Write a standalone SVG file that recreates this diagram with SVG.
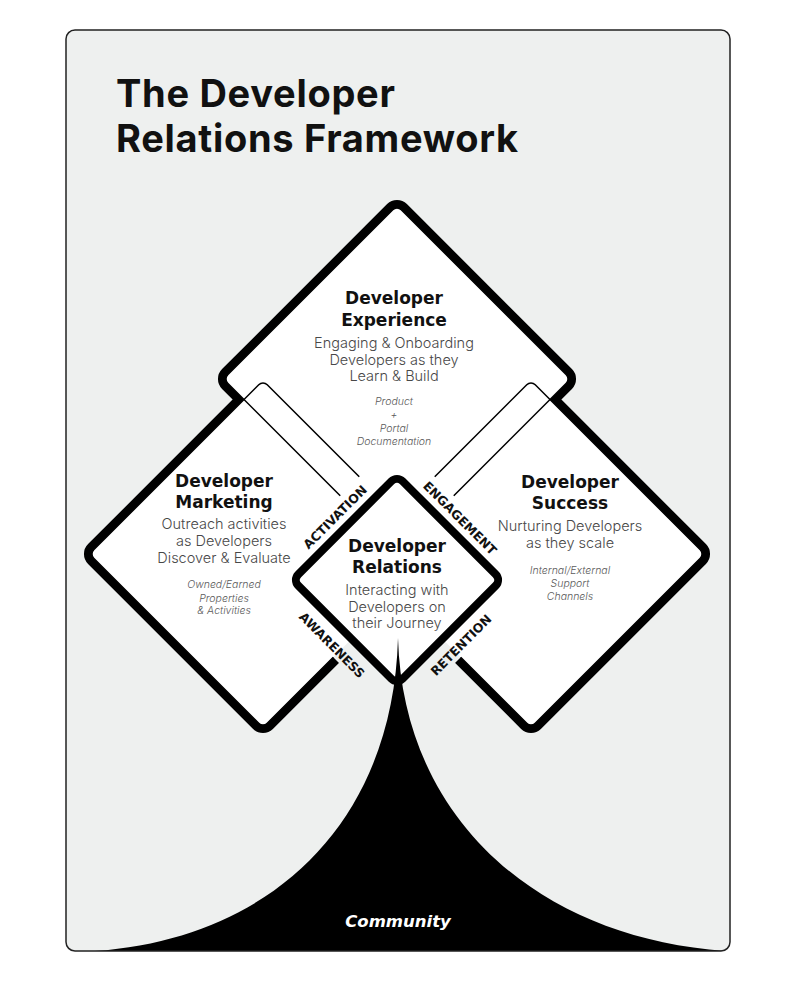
<svg xmlns="http://www.w3.org/2000/svg" xmlns:xlink="http://www.w3.org/1999/xlink" width="795" height="994" viewBox="0 0 795 994">
<style>
.title{font-family:Inter,"Liberation Sans",sans-serif;font-weight:700;font-size:38px;letter-spacing:0.7px;fill:#111}
.hd{font-family:"DejaVu Sans","Liberation Sans",sans-serif;font-weight:700;font-size:17px;fill:#111;text-anchor:middle}
.ds{font-family:Inter,"Liberation Sans",sans-serif;font-weight:300;font-size:14.5px;fill:#484848;text-anchor:middle}
.it{font-family:Inter,"Liberation Sans",sans-serif;font-weight:300;font-style:italic;font-size:10.5px;fill:#5a5a5a;text-anchor:middle}
.lbl{font-family:"DejaVu Sans","Liberation Sans",sans-serif;font-weight:700;font-size:12.5px;fill:#111;text-anchor:middle}
.com{font-family:"DejaVu Sans","Liberation Sans",sans-serif;font-weight:700;font-style:italic;font-size:16.5px;fill:#fff;text-anchor:middle}
.thick{fill:none;stroke:#000;stroke-width:16}
.wfill{fill:#fff;stroke:none}
.thin{fill:none;stroke:#000;stroke-width:1.5}
</style>
<defs>
<rect id="big" x="-122.7" y="-122.7" width="245.4" height="245.4" rx="6"/>
<mask id="m" maskUnits="userSpaceOnUse" x="0" y="0" width="795" height="994">
<rect width="795" height="994" fill="#fff"/>
<polygon points="397,439 538,580 397,721 256,580" fill="#000"/>
</mask>
</defs>
<rect width="795" height="994" fill="#fff"/>
<rect id="frame-bg" x="66" y="30" width="664" height="921" rx="9" fill="#eef0ef"/>
<g id="title">
<text class="title" x="116" y="106.7">The Developer</text>
<text class="title" x="116" y="151.7">Relations Framework</text>
</g>
<g id="diamond-outlines">
<g mask="url(#m)">
<use xlink:href="#big" class="thick" transform="translate(397,379) rotate(45)"/>
<use xlink:href="#big" class="thick" transform="translate(263,554) rotate(45)"/>
<use xlink:href="#big" class="thick" transform="translate(531,554) rotate(45)"/>
</g>
<use xlink:href="#big" class="wfill" transform="translate(397,379) rotate(45)"/>
<use xlink:href="#big" class="wfill" transform="translate(263,554) rotate(45)"/>
<use xlink:href="#big" class="wfill" transform="translate(531,554) rotate(45)"/>
<g mask="url(#m)">
<use xlink:href="#big" class="thin" transform="translate(397,379) rotate(45)"/>
<use xlink:href="#big" class="thin" transform="translate(263,554) rotate(45)"/>
<use xlink:href="#big" class="thin" transform="translate(531,554) rotate(45)"/>
</g>
</g>
<g id="developer-experience">
<text class="hd" x="394" y="304">Developer</text>
<text class="hd" x="394" y="326">Experience</text>
<text class="ds" x="394" y="347.5">Engaging &amp; Onboarding</text>
<text class="ds" x="394" y="364.5">Developers as they</text>
<text class="ds" x="394" y="381">Learn &amp; Build</text>
<text class="it" x="394" y="405">Product</text>
<text class="it" x="394" y="418">+</text>
<text class="it" x="394" y="431.5">Portal</text>
<text class="it" x="394" y="445">Documentation</text>
</g>
<g id="developer-marketing">
<text class="hd" x="224" y="486.7">Developer</text>
<text class="hd" x="224" y="508">Marketing</text>
<text class="ds" x="224" y="529">Outreach activities</text>
<text class="ds" x="224" y="545.7">as Developers</text>
<text class="ds" x="224" y="562.7">Discover &amp; Evaluate</text>
<text class="it" x="224" y="588">Owned/Earned</text>
<text class="it" x="224" y="601.5">Properties</text>
<text class="it" x="224" y="614">&amp; Activities</text>
</g>
<g id="developer-success">
<text class="hd" x="570" y="488.3">Developer</text>
<text class="hd" x="570" y="509.3">Success</text>
<text class="ds" x="570" y="531">Nurturing Developers</text>
<text class="ds" x="570" y="547.7">as they scale</text>
<text class="it" x="570" y="574">Internal/External</text>
<text class="it" x="570" y="587.3">Support</text>
<text class="it" x="570" y="600">Channels</text>
</g>
<g id="developer-relations">
<rect x="-73.8" y="-73.8" width="147.6" height="147.6" rx="8" fill="#fff" stroke="#000" stroke-width="8" transform="translate(397,580) rotate(45)"/>
<text class="hd" x="397" y="551.7">Developer</text>
<text class="hd" x="397" y="573.3">Relations</text>
<text class="ds" x="397" y="595">Interacting with</text>
<text class="ds" x="397" y="611.7">Developers on</text>
<text class="ds" x="397" y="628.3">their Journey</text>
</g>
<g id="community">
<path d="M398,638 C393,820 275,938 95,951 L725,951 C540,938 403,820 398,638 Z" fill="#000"/>
<text class="com" x="398" y="927">Community</text>
</g>
<g id="connectors">
<text class="lbl" transform="translate(335,517) rotate(-45)" y="4.5">ACTIVATION</text>
<text class="lbl" transform="translate(460,518) rotate(45)" y="4.5">ENGAGEMENT</text>
<text class="lbl" transform="translate(332,645) rotate(45)" y="4.5">AWARENESS</text>
<text class="lbl" transform="translate(461,645) rotate(-45)" y="4.5">RETENTION</text>
</g>
<rect id="frame" x="66" y="30" width="664" height="921" rx="9" fill="none" stroke="#222" stroke-width="1.5"/>
</svg>
